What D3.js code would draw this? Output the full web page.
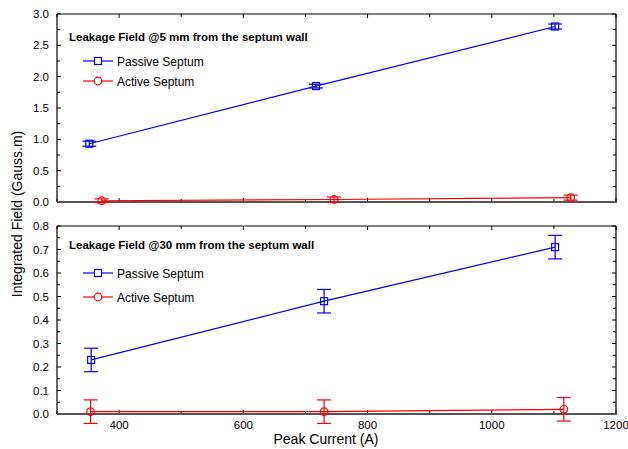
<!DOCTYPE html>
<html lang="en">
<head>
  <meta charset="UTF-8">
  <title>Leakage Field vs Peak Current</title>
  <script src="https://d3js.org/d3.v7.min.js"></script>
  <style>
    body { margin: 0; padding: 0; background: #fff; }
    svg { font-family: "Liberation Sans", Arial, sans-serif; display: block; }
  </style>
</head>
<body>
  <svg width="628" height="449"></svg>
  <script>
    // data
    const panelTitles = ["Leakage Field @5 mm from the septum wall", "Leakage Field @30 mm from the septum wall"];
    const seriesNames = ["Passive Septum", "Active Septum"];
    const seriesColors = ["#0000ff", "#ff0000"];

    // top panel (5 mm)
    const passive5X = [352, 717, 1102];
    const passive5Y = [0.93, 1.85, 2.80];
    const passive5Err = [0.04, 0.03, 0.04];
    const active5X = [372, 746, 1127];
    const active5Y = [0.02, 0.04, 0.07];
    const active5Err = [0.03, 0.04, 0.04];

    // bottom panel (30 mm)
    const passive30X = [355, 730, 1102];
    const passive30Y = [0.23, 0.48, 0.71];
    const passive30Err = [0.05, 0.05, 0.05];
    const active30X = [354, 730, 1116];
    const active30Y = [0.01, 0.01, 0.02];
    const active30Err = [0.05, 0.05, 0.05];

    const xTicks = [400, 600, 800, 1000, 1200];
    const yTicks5 = [0.0, 0.5, 1.0, 1.5, 2.0, 2.5, 3.0];
    const yTicks30 = [0.0, 0.1, 0.2, 0.3, 0.4, 0.5, 0.6, 0.7, 0.8];

    const svg = d3.select("svg");
    const left = 57, right = 616;

    const x = d3.scaleLinear().domain([300, 1200]).range([left, right]);

    const panels = [
      {
        top: 14, bottom: 202, ymax: 3.0, yTicks: yTicks5, minorStep: 0.25, fmt: d3.format(".1f"),
        title: panelTitles[0], titleY: 41, legendY: [61, 81], showX: false,
        series: [
          { xs: passive5X, ys: passive5Y, es: passive5Err, shape: "square" },
          { xs: active5X, ys: active5Y, es: active5Err, shape: "circle" }
        ]
      },
      {
        top: 226, bottom: 414, ymax: 0.8, yTicks: yTicks30, minorStep: 0.05, fmt: d3.format(".1f"),
        title: panelTitles[1], titleY: 249, legendY: [273, 297], showX: true,
        series: [
          { xs: passive30X, ys: passive30Y, es: passive30Err, shape: "square" },
          { xs: active30X, ys: active30Y, es: active30Err, shape: "circle" }
        ]
      }
    ];

    const xMinor = d3.range(300, 1201, 100);

    panels.forEach(p => {
      const y = d3.scaleLinear().domain([0, p.ymax]).range([p.bottom, p.top]);
      const g = svg.append("g");
      const yMinor = d3.range(0, p.ymax + 1e-9, p.minorStep);

      // ticks on all four sides, pointing inward
      xMinor.forEach(v => {
        const major = v % 200 === 0;
        const len = major ? 4 : 3;
        g.append("line").attr("x1", x(v)).attr("x2", x(v))
          .attr("y1", p.bottom).attr("y2", p.bottom - len).attr("stroke", "#000");
        g.append("line").attr("x1", x(v)).attr("x2", x(v))
          .attr("y1", p.top).attr("y2", p.top + len).attr("stroke", "#000");
      });
      yMinor.forEach((v, i) => {
        const len = i % 2 === 0 ? 4 : 3;
        g.append("line").attr("x1", left).attr("x2", left + len)
          .attr("y1", y(v)).attr("y2", y(v)).attr("stroke", "#000");
        g.append("line").attr("x1", right).attr("x2", right - len)
          .attr("y1", y(v)).attr("y2", y(v)).attr("stroke", "#000");
      });

      // frame
      g.append("line").attr("x1", left).attr("x2", right).attr("y1", p.top).attr("y2", p.top)
        .attr("stroke", "#000").attr("stroke-width", 1.2);
      g.append("line").attr("x1", left).attr("x2", left).attr("y1", p.top).attr("y2", p.bottom)
        .attr("stroke", "#000").attr("stroke-width", 1.2);
      g.append("line").attr("x1", right).attr("x2", right).attr("y1", p.top).attr("y2", p.bottom)
        .attr("stroke", "#000").attr("stroke-width", 1.2);
      g.append("line").attr("x1", left).attr("x2", right + 1).attr("y1", p.bottom).attr("y2", p.bottom)
        .attr("stroke", "#555").attr("stroke-width", 2);

      // y labels
      p.yTicks.forEach(v => {
        g.append("text").attr("x", left - 8).attr("y", y(v) + 4)
          .attr("text-anchor", "end").attr("font-size", 11.5).attr("fill", "#000")
          .text(p.fmt(v));
      });

      if (p.showX) {
        xTicks.forEach(v => {
          g.append("text").attr("x", x(v)).attr("y", p.bottom + 15)
            .attr("text-anchor", "middle").attr("font-size", 11.5).attr("fill", "#000")
            .text(v);
        });
      }

      // series
      p.series.forEach((s, si) => {
        const color = seriesColors[si];
        const pts = s.xs.map((xv, i) => ({ x: xv, y: s.ys[i], e: s.es[i] }));
        g.append("path").datum(pts)
          .attr("fill", "none").attr("stroke", color).attr("stroke-width", 1.2)
          .attr("d", d3.line().x(d => x(d.x)).y(d => y(d.y)));

        pts.forEach(d => {
          const cx = x(d.x);
          const cw = 7;
          g.append("line").attr("x1", cx).attr("x2", cx)
            .attr("y1", y(d.y - d.e)).attr("y2", y(d.y + d.e)).attr("stroke", color).attr("stroke-width", 1.2);
          [d.y - d.e, d.y + d.e].forEach(v => {
            g.append("line").attr("x1", cx - cw).attr("x2", cx + cw)
              .attr("y1", y(v)).attr("y2", y(v)).attr("stroke", color).attr("stroke-width", 1.2);
          });
          if (s.shape === "square") {
            g.append("rect").attr("x", cx - 3.5).attr("y", y(d.y) - 3.5)
              .attr("width", 7).attr("height", 7)
              .attr("fill", "none").attr("stroke", color).attr("stroke-width", 1.2);
          } else {
            g.append("circle").attr("cx", cx).attr("cy", y(d.y)).attr("r", 3.8)
              .attr("fill", "none").attr("stroke", color).attr("stroke-width", 1.2);
          }
        });
      });

      // legend
      g.append("text").attr("x", 69).attr("y", p.titleY)
        .attr("font-size", 11.5).attr("font-weight", "bold").attr("fill", "#000")
        .text(p.title);
      seriesNames.forEach((name, i) => {
        const ly = p.legendY[i];
        const color = seriesColors[i];
        g.append("line").attr("x1", 83).attr("x2", 113).attr("y1", ly).attr("y2", ly)
          .attr("stroke", color).attr("stroke-width", 1.2);
        if (i === 0) {
          g.append("rect").attr("x", 98 - 3.5).attr("y", ly - 3.5).attr("width", 7).attr("height", 7)
            .attr("fill", "#fff").attr("stroke", color).attr("stroke-width", 1.2);
        } else {
          g.append("circle").attr("cx", 98).attr("cy", ly).attr("r", 3.8)
            .attr("fill", "#fff").attr("stroke", color).attr("stroke-width", 1.2);
        }
        g.append("text").attr("x", 117).attr("y", ly + 4.5)
          .attr("font-size", 12).attr("fill", "#000").text(name);
      });
    });

    // axis titles
    svg.append("text").attr("transform", "translate(22,214) rotate(-90)")
      .attr("text-anchor", "middle").attr("font-size", 14).attr("fill", "#000")
      .text("Integrated Field (Gauss.m)");
    svg.append("text").attr("x", 326).attr("y", 444)
      .attr("text-anchor", "middle").attr("font-size", 14).attr("fill", "#000")
      .text("Peak Current (A)");
  </script>
</body>
</html>
